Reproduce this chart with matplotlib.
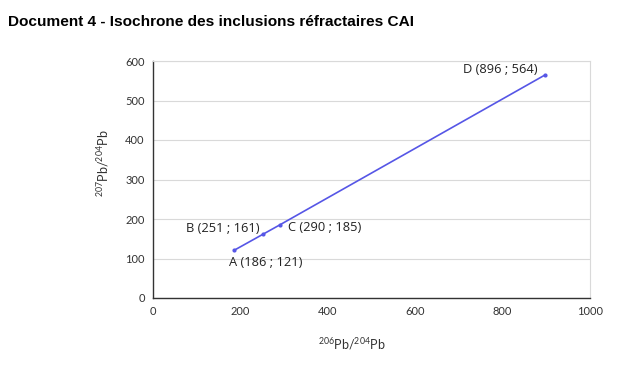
import matplotlib
matplotlib.use('Agg')
import matplotlib.pyplot as plt

# data
names = ['A', 'B', 'C', 'D']
pb206 = [186, 251, 290, 896]
pb207 = [121, 161, 185, 564]
xticks = [0, 200, 400, 600, 800, 1000]
yticks = [0, 100, 200, 300, 400, 500, 600]

title = 'Document 4 - Isochrone des inclusions réfractaires CAI'
lineColor = '#5656e6'
tickFont = 'Lato'
plt.rcParams['mathtext.fontset'] = 'custom'
plt.rcParams['mathtext.rm'] = 'Lato'

fig = plt.figure(figsize = (6.3 , 3.73) , dpi = 100)
fig.text(8 / 630 , 1 - 22 / 373 , title , fontsize = 11.1 , fontweight = 'bold' ,
         family = 'Liberation Sans' , va = 'center' , ha = 'left')

ax = fig.add_axes([153 / 630 , 75 / 373 , 437 / 630 , 237 / 373])
ax.plot(pb206 , pb207 , color = lineColor , lw = 1.2 , marker = 'o' , ms = 2 , zorder = 3)

# point labels (offsets in points)
offsets = {'A': (-4 , -9 , 'left') , 'B': (-2 , 4 , 'right') , 'C': (6 , -2 , 'left') , 'D': (-5 , 4 , 'right')}
for n , x , y in zip(names , pb206 , pb207):
    dx , dy , ha = offsets[n]
    ax.annotate(f'{n} ({x} ; {y})' , (x , y) , xytext = (dx , dy) , textcoords = 'offset points' ,
                ha = ha , va = 'center' , fontsize = 9.3 , family = 'Open Sans' , color = '#222222')

ax.set_xlim(0 , 1000)
ax.set_ylim(0 , 600)
ax.set_xticks(xticks)
ax.set_yticks(yticks)
ax.tick_params(length = 0 , labelsize = 8 , colors = '#333333' , pad = 6)
for lab in ax.get_xticklabels() + ax.get_yticklabels():
    lab.set_family(tickFont)
ax.grid(axis = 'y' , color = '#d9d9d9' , lw = 0.8)
ax.set_axisbelow(True)
for s in ['top' , 'right']:
    ax.spines[s].set_color('#d9d9d9')
    ax.spines[s].set_linewidth(0.8)
for s in ['left' , 'bottom']:
    ax.spines[s].set_color('#333333')
    ax.spines[s].set_linewidth(1)

fig.text(352 / 630 , 1 - 344 / 373 , '$^{206}$Pb/$^{204}$Pb' , fontsize = 9 , family = tickFont ,
         color = '#333333' , ha = 'center' , va = 'center')
fig.text(103 / 630 , 1 - 163 / 373 , '$^{207}$Pb/$^{204}$Pb' , fontsize = 9 , family = tickFont ,
         color = '#333333' , ha = 'center' , va = 'center' , rotation = 90)

fig.savefig('out.png' , dpi = 100)
